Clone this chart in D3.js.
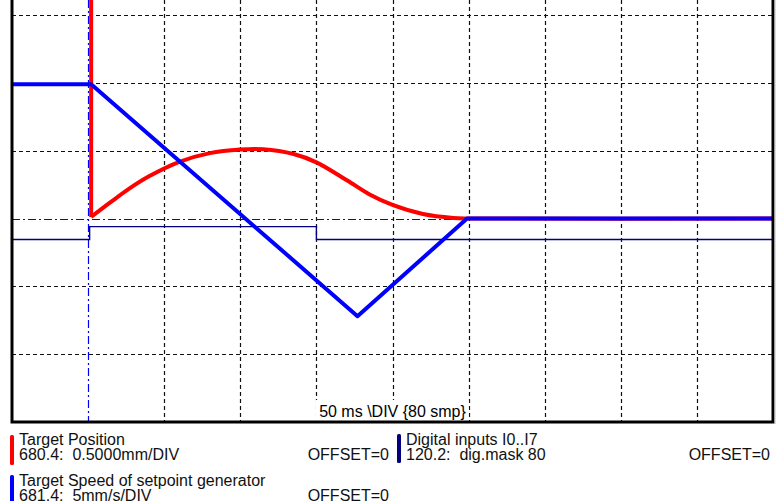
<!doctype html>
<html lang="en">
  <head>
    <meta charset="utf-8">
    <title>Scope trace</title>
    <style>
      body { margin: 0; background: #fff; }
      svg { display: block; font-family: "Liberation Sans", Arial, sans-serif; }
    </style>
  </head>
  <body>
    <div id="chart"></div>

    <script src="https://cdn.jsdelivr.net/npm/d3@7"></script>
    <script>
      // time base: 50 ms per division, trigger at t = 0
      const timeTicks = [-50, 0, 50, 100, 150, 200, 250, 300, 350, 400, 450];
      const divTicks = [-3, -2, -1, 0, 1, 2, 3];

      // Target Position (mm), 0.5000 mm/DIV
      const posTime = [2, 2, 15, 27, 40, 60, 80, 100, 115, 135, 150, 170, 185, 200, 220, 240, 250, 450];
      const posValue = [3.5, 0.011, 0.122, 0.22, 0.311, 0.418, 0.482, 0.508, 0.51, 0.475, 0.414, 0.282, 0.177, 0.1, 0.033, 0.004, 0, 0];

      // Target Speed of setpoint generator (mm/s), 5 mm/s/DIV
      const speedTime = [-50, 2, 177, 249, 450];
      const speedValue = [9.9, 9.9, -7.2, 0, 0];

      // Digital inputs I0..I7, dig.mask 80 (state of the masked bit)
      const digTime = [-50, 1, 1, 150, 150, 450];
      const digState = [0, 0, 1, 1, 0, 0];

      const legendItems = [
        {name: "Target Position", info: "680.4:  0.5000mm/DIV", offset: "OFFSET=0", color: "#ff0000"},
        {name: "Digital inputs I0..I7", info: "120.2:  dig.mask 80", offset: "OFFSET=0", color: "#000080"},
        {name: "Target Speed of setpoint generator", info: "681.4:  5mm/s/DIV", offset: "OFFSET=0", color: "#0000ff"}
      ];
      const timeLabel = "50 ms \\DIV {80 smp}";

      const width = 782, height = 501;
      const plot = {left: 12, right: 773, top: 0, bottom: 422};

      const svg = d3.select("#chart").append("svg")
        .attr("width", width)
        .attr("height", height);

      const x = d3.scaleLinear().domain([-50, 450]).range([plot.left, plot.right]);
      const y = d3.scaleLinear().domain([-3, 3]).range([422, 15]); // divisions

      // digital level on screen, in divisions
      const digLevel = d3.scaleLinear().domain([0, 1]).range([-0.31, -0.12]);

      svg.append("defs").append("clipPath").attr("id", "clip")
        .append("rect")
        .attr("x", plot.left).attr("y", plot.top)
        .attr("width", plot.right - plot.left).attr("height", plot.bottom - plot.top);

      const g = svg.append("g");

      // grid
      g.selectAll(".hgrid")
        .data(divTicks.filter(d => d !== 0 && d > -3))
        .enter().append("line")
        .attr("x1", plot.left).attr("x2", plot.right)
        .attr("y1", d => Math.round(y(d)) + 0.5).attr("y2", d => Math.round(y(d)) + 0.5)
        .attr("stroke", "#111").attr("stroke-width", 1.2).attr("stroke-dasharray", "4,3");

      g.selectAll(".vgrid")
        .data(timeTicks.filter(d => d !== 0 && d > -50 && d < 450))
        .enter().append("line")
        .attr("y1", plot.top).attr("y2", plot.bottom)
        .attr("x1", d => Math.round(x(d)) + 0.5).attr("x2", d => Math.round(x(d)) + 0.5)
        .attr("stroke", "#111").attr("stroke-width", 1.2).attr("stroke-dasharray", "4,3");

      // trigger and zero lines (dash-dot)
      g.append("line")
        .attr("x1", plot.left).attr("x2", plot.right)
        .attr("y1", Math.round(y(0)) + 0.5).attr("y2", Math.round(y(0)) + 0.5)
        .attr("stroke", "#0000ff").attr("stroke-width", 1.2).attr("stroke-dasharray", "8,3,2,3");
      g.append("line")
        .attr("y1", plot.top).attr("y2", plot.bottom)
        .attr("x1", Math.round(x(0)) + 0.5).attr("x2", Math.round(x(0)) + 0.5)
        .attr("stroke", "#0000ff").attr("stroke-width", 1.2).attr("stroke-dasharray", "8,3,2,3");

      // time base label box
      const labelBox = g.append("g");
      labelBox.append("rect")
        .attr("x", x(150) - 1).attr("y", 400)
        .attr("width", x(250) - x(150) + 1).attr("height", plot.bottom - 400)
        .attr("fill", "#fff");
      labelBox.append("text")
        .attr("x", x(200)).attr("y", 417)
        .attr("text-anchor", "middle")
        .attr("font-size", 16)
        .attr("fill", "#000")
        .text(timeLabel);

      // traces
      const traces = g.append("g").attr("clip-path", "url(#clip)");

      const digData = digTime.map((t, i) => [t, digLevel(digState[i])]);
      traces.append("path")
        .datum(digData)
        .attr("fill", "none").attr("stroke", "#000080").attr("stroke-width", 1.4)
        .attr("d", d3.line().x(d => x(d[0])).y(d => y(d[1])));

      const posData = posTime.map((t, i) => [t, posValue[i] / 0.5]);
      traces.append("path")
        .datum(posData.slice(0, 2))
        .attr("fill", "none").attr("stroke", "#ff0000").attr("stroke-width", 4)
        .attr("d", d3.line().x(d => x(d[0])).y(d => y(d[1])));
      traces.append("path")
        .datum(posData.slice(1))
        .attr("fill", "none").attr("stroke", "#ff0000").attr("stroke-width", 4)
        .attr("stroke-linejoin", "round")
        .attr("d", d3.line().curve(d3.curveCatmullRom.alpha(0.5)).x(d => x(d[0])).y(d => y(d[1])));

      const speedData = speedTime.map((t, i) => [t, speedValue[i] / 5]);
      traces.append("path")
        .datum(speedData)
        .attr("fill", "none").attr("stroke", "#0000ff").attr("stroke-width", 4)
        .attr("stroke-linejoin", "round")
        .attr("d", d3.line().x(d => x(d[0])).y(d => y(d[1])));

      // frame: left, bottom, right
      g.append("path")
        .attr("d", `M${plot.left},${plot.top}V${plot.bottom}H${plot.right}V${plot.top}`)
        .attr("fill", "none").attr("stroke", "#000").attr("stroke-width", 3);
      g.append("line")
        .attr("x1", plot.right + 2).attr("x2", plot.right + 2)
        .attr("y1", plot.top).attr("y2", plot.bottom + 2)
        .attr("stroke", "#bbb").attr("stroke-width", 1);

      // legend
      const legendPos = [
        {bx: 10, by: 435, bh: 30, tx: 19, ty: 445, ox: 389},
        {bx: 397, by: 434, bh: 29, tx: 406, ty: 445, ox: 770},
        {bx: 10, by: 475, bh: 30, tx: 19, ty: 486, ox: 389}
      ];
      const legend = svg.append("g");
      legendItems.forEach((item, i) => {
        const p = legendPos[i];
        const lg = legend.append("g");
        lg.append("rect")
          .attr("x", p.bx).attr("y", p.by)
          .attr("width", 4).attr("height", p.bh).attr("rx", 1.5)
          .attr("fill", item.color);
        lg.append("text")
          .attr("x", p.tx).attr("y", p.ty)
          .attr("font-size", 16).attr("fill", "#111")
          .text(item.name);
        lg.append("text")
          .attr("x", p.tx).attr("y", p.ty + 14.5)
          .attr("font-size", 16).attr("fill", "#111")
          .attr("xml:space", "preserve").style("white-space", "pre")
          .text(item.info);
        lg.append("text")
          .attr("x", p.ox).attr("y", p.ty + 14.5)
          .attr("text-anchor", "end")
          .attr("font-size", 16).attr("fill", "#111")
          .text(item.offset);
      });
    </script>
  </body>
</html>
